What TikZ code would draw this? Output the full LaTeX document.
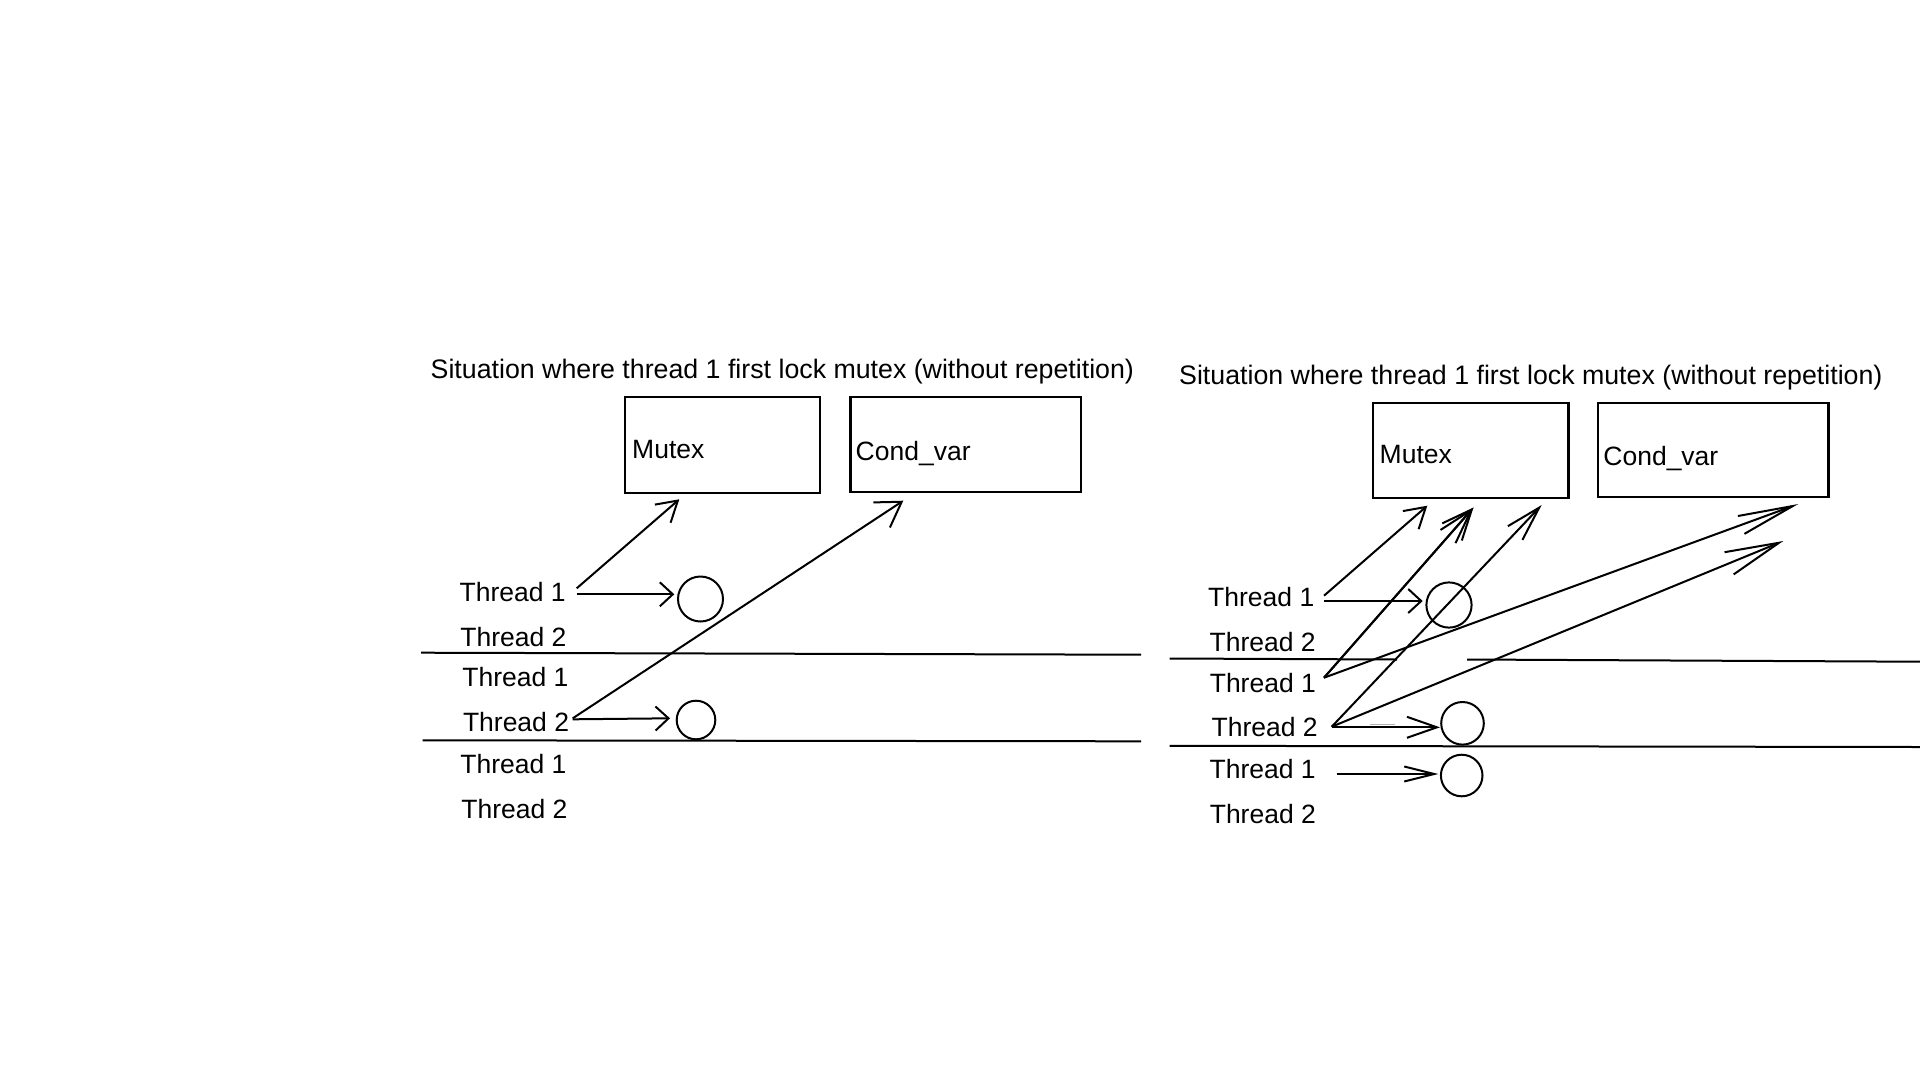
\documentclass[tikz,border=0pt]{standalone}
\usepackage{fontspec}
\setmainfont{Liberation Sans}
\usetikzlibrary{arrows.meta}
\begin{document}
\begin{tikzpicture}[x=1pt,y=-1pt,
  txt/.style={anchor=base west,inner sep=0pt,font=\fontsize{26.5}{30}\selectfont},
  ttl/.style={anchor=base west,inner sep=0pt,font=\fontsize{26.75}{30}\selectfont},
  boxnode/.style={draw,line width=2.2pt,anchor=north west,inner sep=0pt},
  ring/.style={draw,circle,line width=2pt,inner sep=0pt},
  ln/.style={line width=2pt},
  conn/.style={line width=2pt},
  hA/.style={-{Straight Barb[length=13pt,width=24pt]}},
  hB/.style={-{Straight Barb[length=20pt,width=24pt]}},
  hC/.style={-{Straight Barb[length=24pt,width=30pt]}},
  hD/.style={-{Straight Barb[length=35pt,width=20pt]}},
  hE/.style={-{Straight Barb[length=30pt,width=21pt]}},
  hF/.style={-{Straight Barb[length=30pt,width=15pt]}},
  hG/.style={-{Straight Barb[length=55pt,width=19pt]}},
  hH/.style={-{Straight Barb[length=54pt,width=24pt]}}]
\useasboundingbox (0,0) rectangle (1920,1080);
\fill[white] (0,0) rectangle (1920,1080);

% ---------------- left diagram ----------------
\node[ttl] (titleL) at (430.5,378.3) {Situation where thread 1 first lock mutex (without repetition)};
\node[boxnode,minimum width=195pt,minimum height=96pt] (mutexL) at (624,396) {};
\node[txt] (mutexLt) at (632,458.3) {Mutex};
\node[boxnode,minimum width=230.5pt,minimum height=94.5pt] (condL) at (849.3,396) {};
\node[txt] (condLt) at (855.5,460) {Cond\_var};

\node[txt] (l1) at (459.5,601.7) {Thread 1};
\node[txt] (l2) at (460.2,646.7) {Thread 2};
\node[txt] (l3) at (462.2,686.7) {Thread 1};
\node[txt] (l4) at (462.8,731.7) {Thread 2};
\node[txt] (l5) at (460.2,773.3) {Thread 1};
\node[txt] (l6) at (461.2,818.3) {Thread 2};

\draw[ln] (421,652.7) -- (1141,654.7);
\draw[ln] (422.5,740.3) -- (1141,741.3);

\node[ring,minimum size=45pt] (cL1) at (700.5,599) {};
\node[ring,minimum size=38.6pt] (cL2) at (696,720) {};

\coordinate (sL1a) at (576.7,588.3);
\coordinate (sL1b) at (576.7,594.3);
\coordinate (eL1a) at (679.3,499.3);
\coordinate (eL1b) at (674.3,594.3);
\coordinate (sL4a) at (572.7,718.3);
\coordinate (sL4b) at (572.7,719.3);
\coordinate (eL4a) at (903.3,500.7);
\coordinate (eL4b) at (670,718.3);

\draw[conn,hB] (sL1a) -- (eL1a);
\draw[conn,hA] (sL1b) -- (eL1b);
\draw[conn,hC] (sL4a) -- (eL4a);
\draw[conn,hA] (sL4b) -- (eL4b);

% ---------------- right diagram ----------------
\node[ttl] (titleR) at (1179,384.3) {Situation where thread 1 first lock mutex (without repetition)};
\node[boxnode,minimum width=195.6pt,minimum height=95.5pt] (mutexR) at (1371.7,401.7) {};
\node[txt] (mutexRt) at (1379.5,463.3) {Mutex};
\node[boxnode,minimum width=230.3pt,minimum height=94.5pt] (condR) at (1597,401.7) {};
\node[txt] (condRt) at (1603.2,465.7) {Cond\_var};

\node[txt] (r1) at (1208,606.7) {Thread 1};
\node[txt] (r2) at (1209.4,651.7) {Thread 2};
\node[txt] (r3) at (1209.6,692.3) {Thread 1};
\node[txt] (r4) at (1211.4,736.7) {Thread 2};
\node[txt] (r5) at (1209.4,778.3) {Thread 1};
\node[txt] (r6) at (1209.6,823.3) {Thread 2};

\draw[ln] (1169.5,658.5) -- (1397,659.5);
\draw[ln] (1467,659.5) -- (1920,661.7);
\draw[ln] (1169.5,745.8) -- (1920,747);
\draw[line width=1.5pt,gray!60] (1370,724.3) -- (1395,724.3);

\node[ring,minimum size=45.2pt] (cR1) at (1449,605) {};
\node[ring,minimum size=42.6pt] (cR2) at (1462.5,723.3) {};
\node[ring,minimum size=41.6pt] (cR3) at (1461.7,775.5) {};

\coordinate (sR1a) at (1324,595.7);
\coordinate (sR1b) at (1324,601);
\coordinate (eR1a) at (1427.3,505.7);
\coordinate (eR1b) at (1422.7,601);
\coordinate (sR3) at (1324,677.7);
\coordinate (eR3a) at (1473.5,507.5);
\coordinate (eR3b) at (1798.3,504);
\coordinate (sR4) at (1331.7,726.7);
\coordinate (sR4b) at (1331.7,727.3);
\coordinate (eR4a) at (1541.7,505);
\coordinate (eR4b) at (1783.3,541);
\coordinate (eR4c) at (1440,727.3);
\coordinate (sR5) at (1336.7,774);
\coordinate (eR5) at (1438.3,774);

\draw[conn,hB] (sR1a) -- (eR1a);
\draw[conn,hA] (sR1b) -- (eR1b);
\draw[conn,hD] (sR3) -- (eR3a);
\draw[conn,-{Straight Barb[length=30pt,width=26pt]}] (sR3) -- (eR3a);
\draw[conn,hG] (sR3) -- (eR3b);
\draw[conn,hD] (sR4) -- (eR4a);
\draw[conn,hH] (sR4) -- (eR4b);
\draw[conn,hE] (sR4b) -- (eR4c);
\draw[conn,hF] (sR5) -- (eR5);
\end{tikzpicture}
\end{document}
